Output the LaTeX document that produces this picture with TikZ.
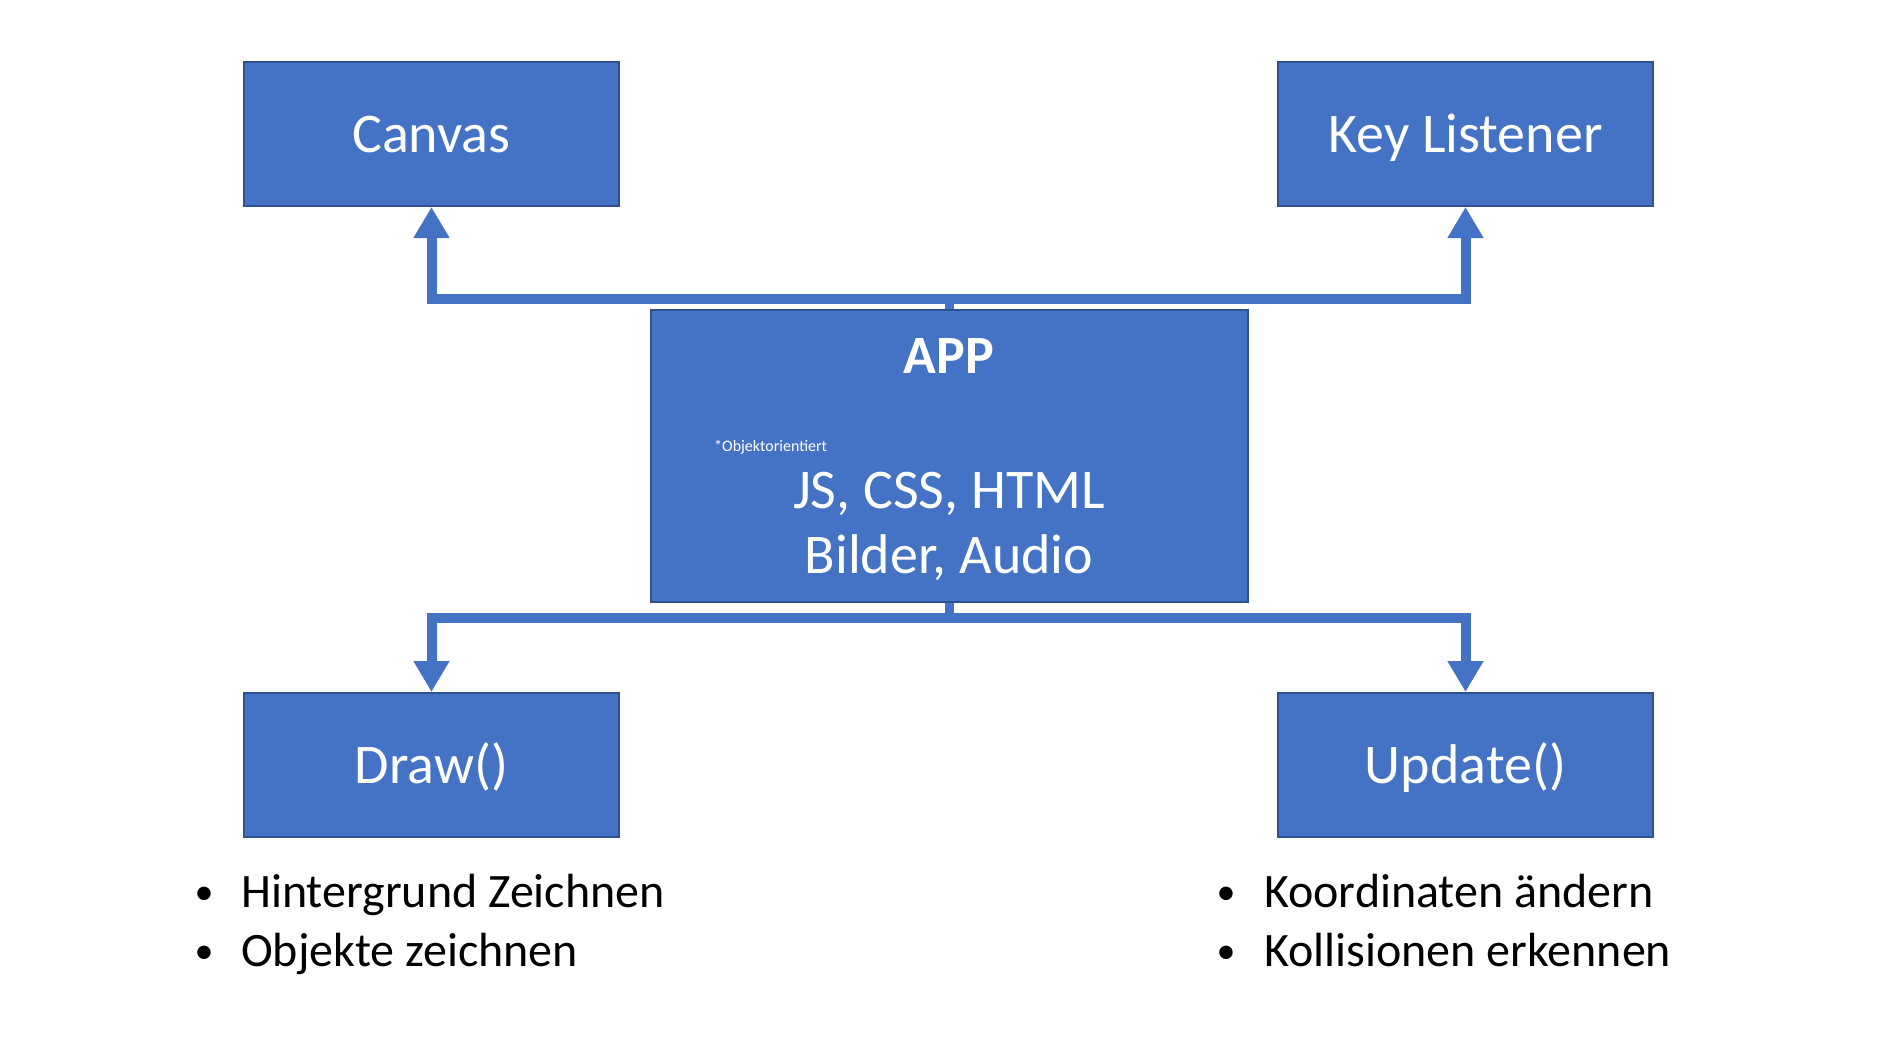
\documentclass[tikz,border=0pt]{standalone}
\usepackage{fontspec}
\setmainfont{Carlito}
\usetikzlibrary{arrows.meta}
\definecolor{boxblue}{HTML}{4472C4}
\definecolor{boxedge}{HTML}{2F528F}
\tikzset{
  blockbox/.style={rectangle, fill=boxblue, draw=boxedge, line width=2pt, text=white, minimum width=375pt, minimum height=144pt, inner sep=0pt, text height=40pt, text depth=4pt, font=\fontsize{56}{64}\selectfont},
  conn/.style={draw=boxblue, line width=10pt, -{Triangle[width=34pt,length=31pt]}},
  stub/.style={draw=boxblue, line width=9pt},
  bullettext/.style={anchor=base west, inner sep=0pt, text=black, font=\fontsize{48}{56}\selectfont},
  bulletdot/.style={anchor=base, inner sep=0pt, text=black, font=\fontsize{38}{44}\selectfont},
  apptext/.style={anchor=base, inner sep=0pt, text=white, font=\fontsize{56}{64}\selectfont}
}
\begin{document}
\begin{tikzpicture}[x=1pt,y=-1pt]
\useasboundingbox (0,0) rectangle (1896,1057);
\fill[white] (0,0) rectangle (1896,1057);

\node[blockbox] (canvas) at (431.5,134) {Canvas};
\node[blockbox] (keyl) at (1465.5,134) {Key Listener};
\node[blockbox] (draw) at (431.5,765) {Draw()};
\node[blockbox] (update) at (1465.5,765) {Update()};
\node[rectangle, fill=boxblue, draw=boxedge, line width=2pt, minimum width=597pt, minimum height=292pt, inner sep=0pt] (app) at (949,456) {};

\node[apptext, font=\bfseries\fontsize{54}{60}\selectfont] (apptitle) at (949,373) {APP};
\node[apptext, anchor=base west, font=\fontsize{16}{19}\selectfont] (oo) at (714,451) {*Objektorientiert};
\node[apptext] (tech) at (949,508) {JS, CSS, HTML};
\node[apptext] (media) at (949,573) {Bilder, Audio};

% connectors
\coordinate (topj) at ([yshift=10pt]app.north);
\coordinate (botj) at ([yshift=-15pt]app.south);
\draw[stub] (app.north) -- (topj);
\draw[stub] (app.south) -- (botj);
\draw[conn] (topj) -| (canvas.south);
\draw[conn] (topj) -| (keyl.south);
\draw[conn] (botj) -| (draw.north);
\draw[conn] (botj) -| (update.north);

% bullet lists
\node[bulletdot] (b1) at (204,904) {•};
\node[bullettext] (t1) at (241,907) {Hintergrund Zeichnen};
\node[bulletdot] (b2) at (204,963) {•};
\node[bullettext] (t2) at (241,966) {Objekte zeichnen};
\node[bulletdot] (b3) at (1226,904) {•};
\node[bullettext] (t3) at (1264,907) {Koordinaten ändern};
\node[bulletdot] (b4) at (1226,963) {•};
\node[bullettext] (t4) at (1264,966) {Kollisionen erkennen};
\end{tikzpicture}
\end{document}
